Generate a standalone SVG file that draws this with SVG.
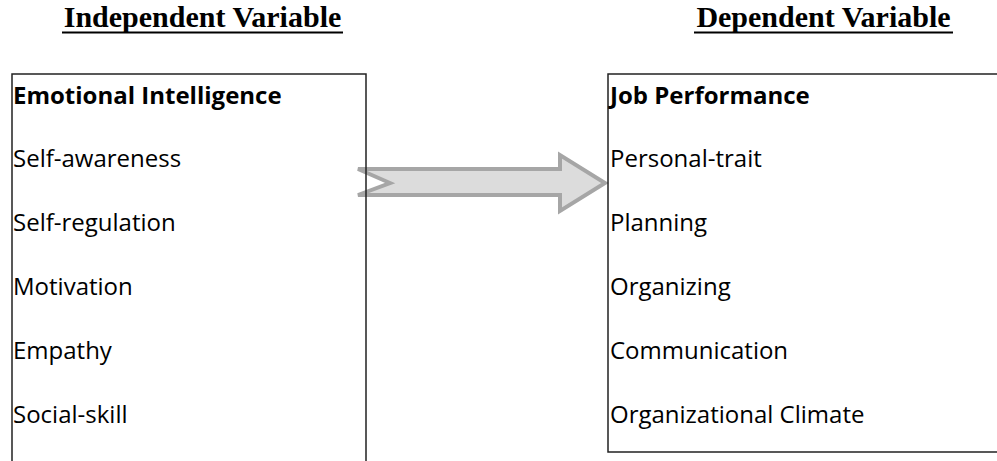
<svg xmlns="http://www.w3.org/2000/svg" width="997" height="461" viewBox="0 0 997 461">
  <style>
    .head { font-family: "Liberation Serif", "Times New Roman", serif; font-weight: bold; font-size: 30px; fill: #000; text-anchor: middle; }
    .uline { stroke: #000; stroke-width: 2; }
    .box { fill: none; stroke: #222; stroke-width: 1.5; }
    .title { font-family: "Open Sans", "Noto Sans", sans-serif; font-weight: bold; font-size: 24px; fill: #000; }
    .item { font-family: "Open Sans", "Noto Sans", sans-serif; font-size: 24px; fill: #000; }
    .arrow { fill: #dcdcdc; stroke: #a6a6a6; stroke-width: 4; stroke-linejoin: miter; }
  </style>

  <!-- column headings -->
  <g id="heading-independent">
    <text class="head" x="202.5" y="27">Independent Variable</text>
    <line class="uline" x1="62" y1="32.5" x2="343" y2="32.5"/>
  </g>
  <g id="heading-dependent">
    <text class="head" x="823.5" y="27">Dependent Variable</text>
    <line class="uline" x1="694" y1="32.5" x2="953" y2="32.5"/>
  </g>

  <!-- connector -->
  <g id="connectors">
    <polygon class="arrow" points="358,169 560,169 560,155 605,183 560,211 560,195 358,195 390,183"/>
  </g>

  <!-- independent variable box -->
  <g id="emotional-intelligence">
    <polyline class="box" points="12,470 12,74 366,74 366,470"/>
    <text class="title" x="13" y="104">Emotional Intelligence</text>
    <text class="item" x="13" y="167">Self-awareness</text>
    <text class="item" x="13" y="231">Self-regulation</text>
    <text class="item" x="13" y="295">Motivation</text>
    <text class="item" x="13" y="359">Empathy</text>
    <text class="item" x="13" y="423">Social-skill</text>
  </g>

  <!-- dependent variable box -->
  <g id="job-performance">
    <polyline class="box" points="1000,74 608,74 608,452 1000,452"/>
    <text class="title" x="610" y="104">Job Performance</text>
    <text class="item" x="610" y="167">Personal-trait</text>
    <text class="item" x="610" y="231">Planning</text>
    <text class="item" x="610" y="295">Organizing</text>
    <text class="item" x="610" y="359">Communication</text>
    <text class="item" x="610" y="423">Organizational Climate</text>
  </g>
</svg>
